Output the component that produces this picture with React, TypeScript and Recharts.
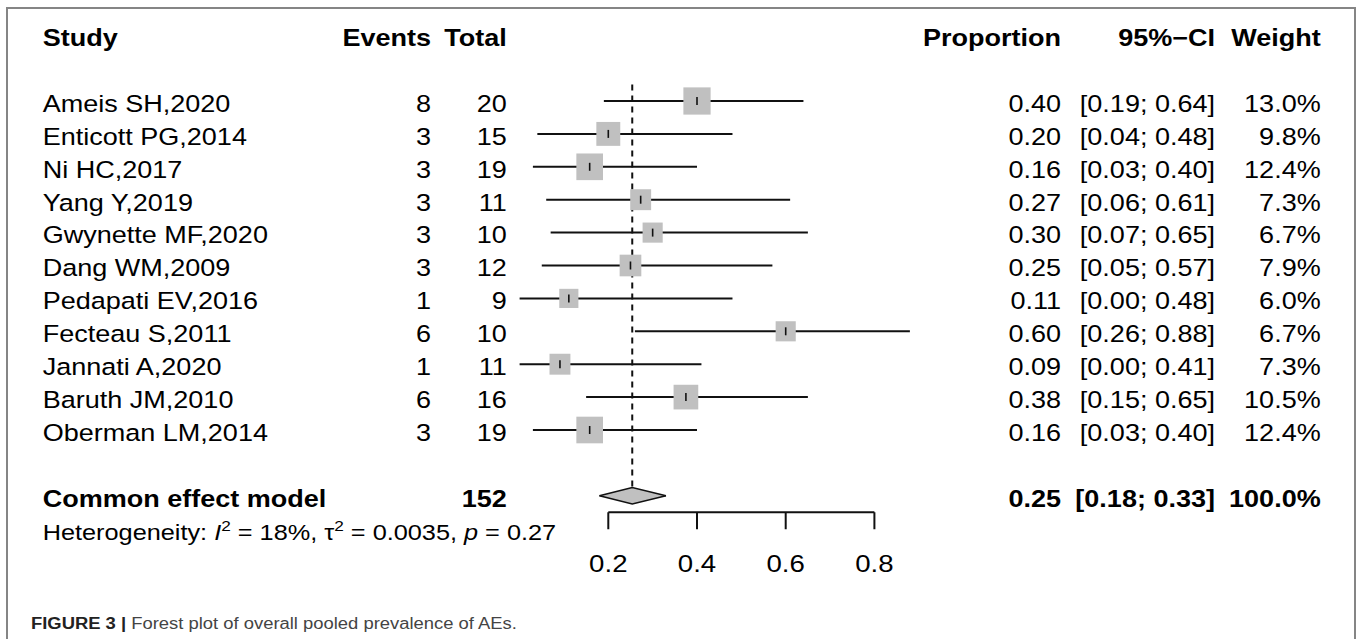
import React from 'react';
import { Area, ComposedChart, ErrorBar, ReferenceLine, Scatter, XAxis, YAxis } from 'recharts';

// study rows, top to bottom
const studies = [
  'Ameis SH,2020',
  'Enticott PG,2014',
  'Ni HC,2017',
  'Yang Y,2019',
  'Gwynette MF,2020',
  'Dang WM,2009',
  'Pedapati EV,2016',
  'Fecteau S,2011',
  'Jannati A,2020',
  'Baruth JM,2010',
  'Oberman LM,2014',
];
const events = [8, 3, 3, 3, 3, 3, 1, 6, 1, 6, 3];
const totals = [20, 15, 19, 11, 10, 12, 9, 10, 11, 16, 19];
const proportions = [0.4, 0.2, 0.158, 0.273, 0.3, 0.25, 0.111, 0.6, 0.091, 0.375, 0.158];
const ciLower = [0.19, 0.04, 0.03, 0.06, 0.07, 0.05, 0.0, 0.26, 0.0, 0.15, 0.03];
const ciUpper = [0.64, 0.48, 0.4, 0.61, 0.65, 0.57, 0.48, 0.88, 0.41, 0.65, 0.4];
const weights = [13.0, 9.8, 12.4, 7.3, 6.7, 7.9, 6.0, 6.7, 7.3, 10.5, 12.4];

// common effect model
const pooledTotal = 152;
const pooledEst = 0.254;
const pooledLower = 0.18;
const pooledUpper = 0.33;
const pooledWeight = 100;
const hetI2 = '18%';
const hetTau2 = '0.0035';
const hetP = '0.27';

const xTicks = [0.2, 0.4, 0.6, 0.8];

const HEADER_ROW = -2;
const POOLED_ROW = 12;
const HET_ROW = 13;
const rowTicks = [HEADER_ROW, ...studies.map((_, i) => i), POOLED_ROW, HET_ROW];

const studyPoints = studies.map((_, i) => ({
  x: proportions[i],
  y: i,
  err: [proportions[i] - ciLower[i], ciUpper[i] - proportions[i]],
  weight: weights[i],
}));

const diamond = [
  { x: pooledLower, range: [POOLED_ROW, POOLED_ROW] },
  { x: pooledEst, range: [POOLED_ROW - 0.25, POOLED_ROW + 0.25] },
  { x: pooledUpper, range: [POOLED_ROW, POOLED_ROW] },
];

const FONT = '"Liberation Sans", Arial, Helvetica, sans-serif';
const SX = 1.15; // the figure is a little wider than tall
const INK = '#111';

function T({ x, y, anchor = 'start', bold = false, size = 23.5, children }: any) {
  return (
    <text
      transform={`translate(${x},${y}) scale(${SX},1)`}
      textAnchor={anchor}
      fontWeight={bold ? 'bold' : 'normal'}
      fontSize={size}
      fontFamily={FONT}
      fill="#000"
    >
      {children}
    </text>
  );
}

// column anchors
const COL_STUDY = 42.7;
const COL_EVENTS = 431;
const COL_TOTAL = 506.7;
const COL_PROP = 1061;
const COL_CI = 1215;
const COL_WEIGHT = 1320.7;

function RowTick(props: any) {
  const { y, payload } = props;
  const v = payload.value;
  const b = y + 10.8;
  if (v === HEADER_ROW) {
    return (
      <g>
        <T x={COL_STUDY} y={b} bold>Study</T>
        <T x={COL_EVENTS} y={b} anchor="end" bold>Events</T>
        <T x={COL_TOTAL} y={b} anchor="end" bold>Total</T>
        <T x={COL_PROP} y={b} anchor="end" bold>Proportion</T>
        <T x={COL_CI} y={b} anchor="end" bold>95%−CI</T>
        <T x={COL_WEIGHT} y={b} anchor="end" bold>Weight</T>
      </g>
    );
  }
  if (v === POOLED_ROW) {
    return (
      <g>
        <T x={COL_STUDY} y={b} bold>Common effect model</T>
        <T x={COL_TOTAL} y={b} anchor="end" bold>{pooledTotal}</T>
        <T x={COL_PROP} y={b} anchor="end" bold>{pooledEst.toFixed(2)}</T>
        <T x={COL_CI} y={b} anchor="end" bold>{`[${pooledLower.toFixed(2)}; ${pooledUpper.toFixed(2)}]`}</T>
        <T x={COL_WEIGHT} y={b} anchor="end" bold>{`${pooledWeight.toFixed(1)}%`}</T>
      </g>
    );
  }
  if (v === HET_ROW) {
    return (
      <T x={COL_STUDY} y={b} size={22}>
        Heterogeneity: <tspan fontStyle="italic">I</tspan>
        <tspan dy={-9} fontSize={15}>2</tspan>
        <tspan dy={9}>{` = ${hetI2}, τ`}</tspan>
        <tspan dy={-9} fontSize={15}>2</tspan>
        <tspan dy={9}>{` = ${hetTau2}, `}</tspan>
        <tspan fontStyle="italic">p</tspan>
        {` = ${hetP}`}
      </T>
    );
  }
  const i = v;
  return (
    <g>
      <T x={COL_STUDY} y={b}>{studies[i]}</T>
      <T x={COL_EVENTS} y={b} anchor="end">{events[i]}</T>
      <T x={COL_TOTAL} y={b} anchor="end">{totals[i]}</T>
      <T x={COL_PROP} y={b} anchor="end">{proportions[i].toFixed(2)}</T>
      <T x={COL_CI} y={b} anchor="end">{`[${ciLower[i].toFixed(2)}; ${ciUpper[i].toFixed(2)}]`}</T>
      <T x={COL_WEIGHT} y={b} anchor="end">{`${weights[i].toFixed(1)}%`}</T>
    </g>
  );
}

function AxisTick(props: any) {
  const { x, y, payload } = props;
  return (
    <T x={x} y={y + 40.5} anchor="middle" size={24}>
      {String(payload.value)}
    </T>
  );
}

function StudyBox(props: any) {
  const { cx, cy, payload } = props;
  const side = 7 * Math.sqrt(payload.weight) + 2;
  return (
    <g>
      <rect x={cx - side / 2} y={cy - side / 2} width={side} height={side} fill="#c0c0c0" />
      <line x1={cx} x2={cx} y1={cy - 4} y2={cy + 4} stroke={INK} strokeWidth={1.6} />
    </g>
  );
}

export default function App() {
  return (
    <div style={{ position: 'absolute', left: 0, top: 0, width: 1357, height: 639, overflow: 'hidden', background: '#fff' }}>
      <div
        style={{
          position: 'absolute',
          left: 6,
          top: 7,
          width: 1346,
          height: 640,
          borderLeft: '2px solid #858585',
          borderTop: '2px solid #858585',
          borderRight: '2px solid #858585',
        }}
      />
      <div style={{ position: 'absolute', left: 0, top: 0 }}>
        <ComposedChart
          width={1357}
          height={639}
          data={diamond}
          margin={{ top: 18.75, right: 438.25, bottom: 0, left: 0 }}
        >
          <XAxis
            dataKey="x"
            type="number"
            domain={[0, 0.9]}
            ticks={xTicks}
            interval={0}
            axisLine={false}
            tickLine={{ stroke: INK, strokeWidth: 2 }}
            tickSize={17}
            tickMargin={2}
            tick={<AxisTick />}
            height={126.75}
          />
          <YAxis
            dataKey="y"
            type="number"
            domain={[-2.5, 12.5]}
            reversed
            ticks={rowTicks}
            interval={0}
            axisLine={false}
            tickLine={false}
            tick={<RowTick />}
            width={519.6}
          />
          <ReferenceLine
            segment={[
              { x: pooledEst, y: -0.5 },
              { x: pooledEst, y: POOLED_ROW - 0.25 },
            ]}
            stroke={INK}
            strokeWidth={2}
            strokeDasharray="6 5"
          />
          <Scatter data={studyPoints} shape={<StudyBox />} isAnimationActive={false}>
            <ErrorBar dataKey="err" direction="x" width={0} stroke={INK} strokeWidth={2} isAnimationActive={false} />
          </Scatter>
          <Area
            dataKey="range"
            type="linear"
            stroke={INK}
            strokeWidth={1.5}
            fill="#c0c0c0"
            fillOpacity={1}
            dot={false}
            activeDot={false}
            isAnimationActive={false}
          />
          <ReferenceLine
            segment={[
              { x: xTicks[0], y: 12.5 },
              { x: xTicks[xTicks.length - 1], y: 12.5 },
            ]}
            stroke={INK}
            strokeWidth={2}
          />
        </ComposedChart>
      </div>
      <div
        style={{
          position: 'absolute',
          left: 30.7,
          top: 615.8,
          fontFamily: FONT,
          fontSize: 16,
          lineHeight: '16px',
          whiteSpace: 'nowrap',
          transform: `scaleX(${SX})`,
          transformOrigin: 'left',
          color: '#444',
        }}
      >
        <span style={{ fontWeight: 'bold', color: '#222' }}>FIGURE 3 |</span> Forest plot of overall pooled prevalence of AEs.
      </div>
    </div>
  );
}
